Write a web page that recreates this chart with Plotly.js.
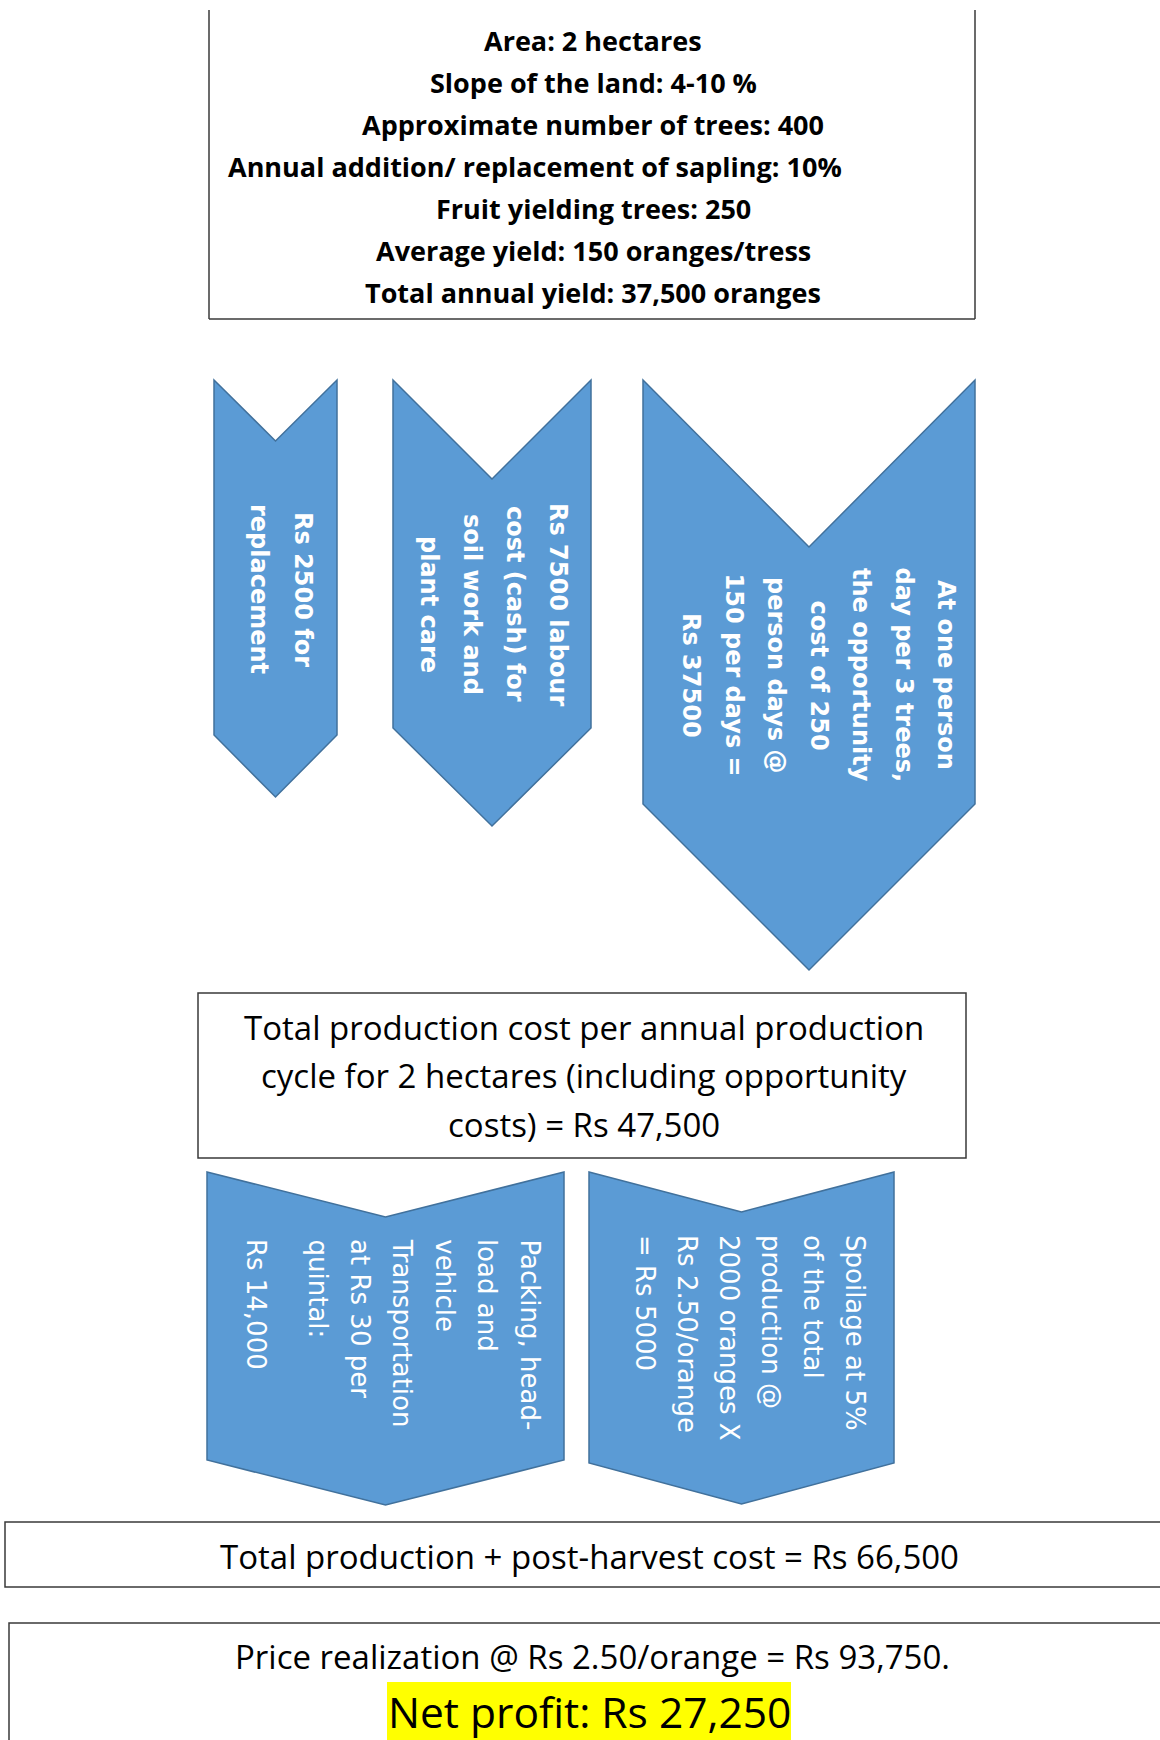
<!DOCTYPE html>
<html>
<head>
<meta charset="utf-8">
<script src="https://cdn.plot.ly/plotly-3.0.1.min.js"></script>
<style>html,body{margin:0;padding:0;background:#fff;}#chart{width:1160px;height:1740px;}</style>
</head>
<body>
<div id="chart"></div>
<script>
// ---- content (text values) ----
const farmFacts = [
  "Area: 2 hectares",
  "Slope of the land: 4-10 %",
  "Approximate number of trees: 400",
  "Annual addition/ replacement of sapling: 10%",
  "Fruit yielding trees: 250",
  "Average yield: 150 oranges/tress",
  "Total annual yield: 37,500 oranges"
];
const replacementLabel = ["Rs 2500 for", "replacement"];
const labourLabel = ["Rs 7500 labour", "cost (cash) for", "soil work and", "plant care"];
const opportunityLabel = ["At one person", "day per 3 trees,", "the opportunity", "cost of 250", "person days @", "150 per days =", "Rs 37500"];
const productionCostLines = [
  "Total production cost per annual production",
  "cycle for 2 hectares (including opportunity",
  "costs) = Rs 47,500"
];
const transportLabel = [["Packing, head-", "load and", "vehicle", "Transportation", "at Rs 30 per", "quintal:"], ["Rs 14,000"]];
const spoilageLabel = [["Spoilage at 5%", "of the total", "production @", "2000 oranges X", "Rs 2.50/orange", "= Rs 5000"]];
const totalCostText = "Total production + post-harvest cost = Rs 66,500";
const priceText = "Price realization @ Rs 2.50/orange = Rs 93,750.";
const profitText = "Net profit: Rs 27,250";

// ---- styles ----
const BLUE = "#5B9BD5", BLUE_LINE = "#41719C", BOX_LINE = "#3a3a3a";
const calibriLike = "'Open Sans', Lato, sans-serif";
const verdanaLike = "'DejaVu Sans', Verdana, sans-serif";

const shapes = [];
const annotations = [];

function line(x0, y0, x1, y1) {
  shapes.push({type: "line", xref: "x", yref: "y", x0, y0, x1, y1, line: {color: BOX_LINE, width: 1.5}});
}
function rect(x0, y0, x1, y1, fill, lw) {
  shapes.push({type: "rect", xref: "x", yref: "y", x0, y0, x1, y1, fillcolor: fill || "rgba(0,0,0,0)",
    line: {color: lw === 0 ? "rgba(0,0,0,0)" : BOX_LINE, width: lw === 0 ? 0 : 1.5}, layer: "below"});
}
function chevron(l, r, top, notchY, sideY, tipY) {
  const cx = (l + r) / 2;
  shapes.push({type: "path", xref: "x", yref: "y",
    path: `M${l},${top} L${cx},${notchY} L${r},${top} L${r},${sideY} L${cx},${tipY} L${l},${sideY} Z`,
    fillcolor: BLUE, line: {color: BLUE_LINE, width: 1.5}, layer: "below"});
}
function text(t, x, y, size, family, opts) {
  annotations.push(Object.assign({text: t, x, y, xref: "x", yref: "y", showarrow: false,
    xanchor: "center", yanchor: "middle", font: {size, family, color: "#000"}}, opts || {}));
}
// rotated (reading top-to-bottom) lines; first line on the right
function rotatedCentered(lines, xFirst, step, yMid, size, bold) {
  lines.forEach((t, i) => {
    text(bold ? "<b>" + t + "</b>" : t, xFirst - i * step, yMid, size, verdanaLike,
      {textangle: 90, font: {size, family: verdanaLike, color: "#fff"}});
  });
}
function rotatedTop(paragraphs, xFirst, step, paraGap, yTop, size) {
  let x = xFirst;
  paragraphs.forEach((para, p) => {
    if (p > 0) x -= paraGap;
    para.forEach((t) => {
      text(t, x, yTop, size, verdanaLike,
        {textangle: 90, yanchor: "top", font: {size, family: verdanaLike, color: "#fff"}});
      x -= step;
    });
  });
}

// ---- top info box (top edge cropped) ----
line(209, 10, 209, 319);
line(975, 10, 975, 319);
line(209, 319, 975, 319);
const factLineShift = [0, 0, 0, -58, 0, 0, 0];   // 4th line sits left of centre in the source
farmFacts.forEach((t, i) => text("<b>" + t + "</b>", 593 + factLineShift[i], 40 + i * 42, 27, calibriLike));

// ---- cost chevrons ----
chevron(214, 337, 380, 441, 735, 797);
chevron(393, 591, 380, 479, 728, 826);
chevron(643, 975, 380, 547, 804, 970);
rotatedCentered(replacementLabel, 303, 44, 589, 24, true);
rotatedCentered(labourLabel, 558, 43, 604, 24, true);
rotatedCentered(opportunityLabel, 946, 42.5, 675, 24, true);

// ---- production cost box ----
rect(198, 993, 966, 1158);
productionCostLines.forEach((t, i) => text(t, 584, 1027 + i * 48.5, 33, calibriLike));

// ---- post-harvest chevrons ----
chevron(207, 564, 1172, 1217, 1460, 1505);
chevron(589, 894, 1172, 1212, 1463, 1504);
rotatedTop(transportLabel, 530, 42.4, 19, 1237, 26);
rotatedTop(spoilageLabel, 855, 42, 0, 1233, 26);

// ---- totals ----
rect(5, 1522, 1175, 1587);
text(totalCostText, 589, 1556, 33, calibriLike);
rect(9, 1623, 1175, 1765);
text(priceText, 592, 1656, 33, calibriLike);
rect(387, 1682, 791, 1745, "#FFFF00", 0);
text(profitText, 589, 1711, 42.5, calibriLike);

const layout = {
  width: 1160, height: 1740,
  margin: {l: 0, r: 0, t: 0, b: 0, pad: 0},
  paper_bgcolor: "#fff", plot_bgcolor: "#fff",
  showlegend: false,
  xaxis: {range: [0, 1160], visible: false, fixedrange: true},
  yaxis: {range: [1740, 0], visible: false, fixedrange: true},
  shapes, annotations
};
Plotly.newPlot("chart", [{x: [], y: [], type: "scatter"}], layout, {staticPlot: true, displayModeBar: false});
</script>
</body>
</html>
